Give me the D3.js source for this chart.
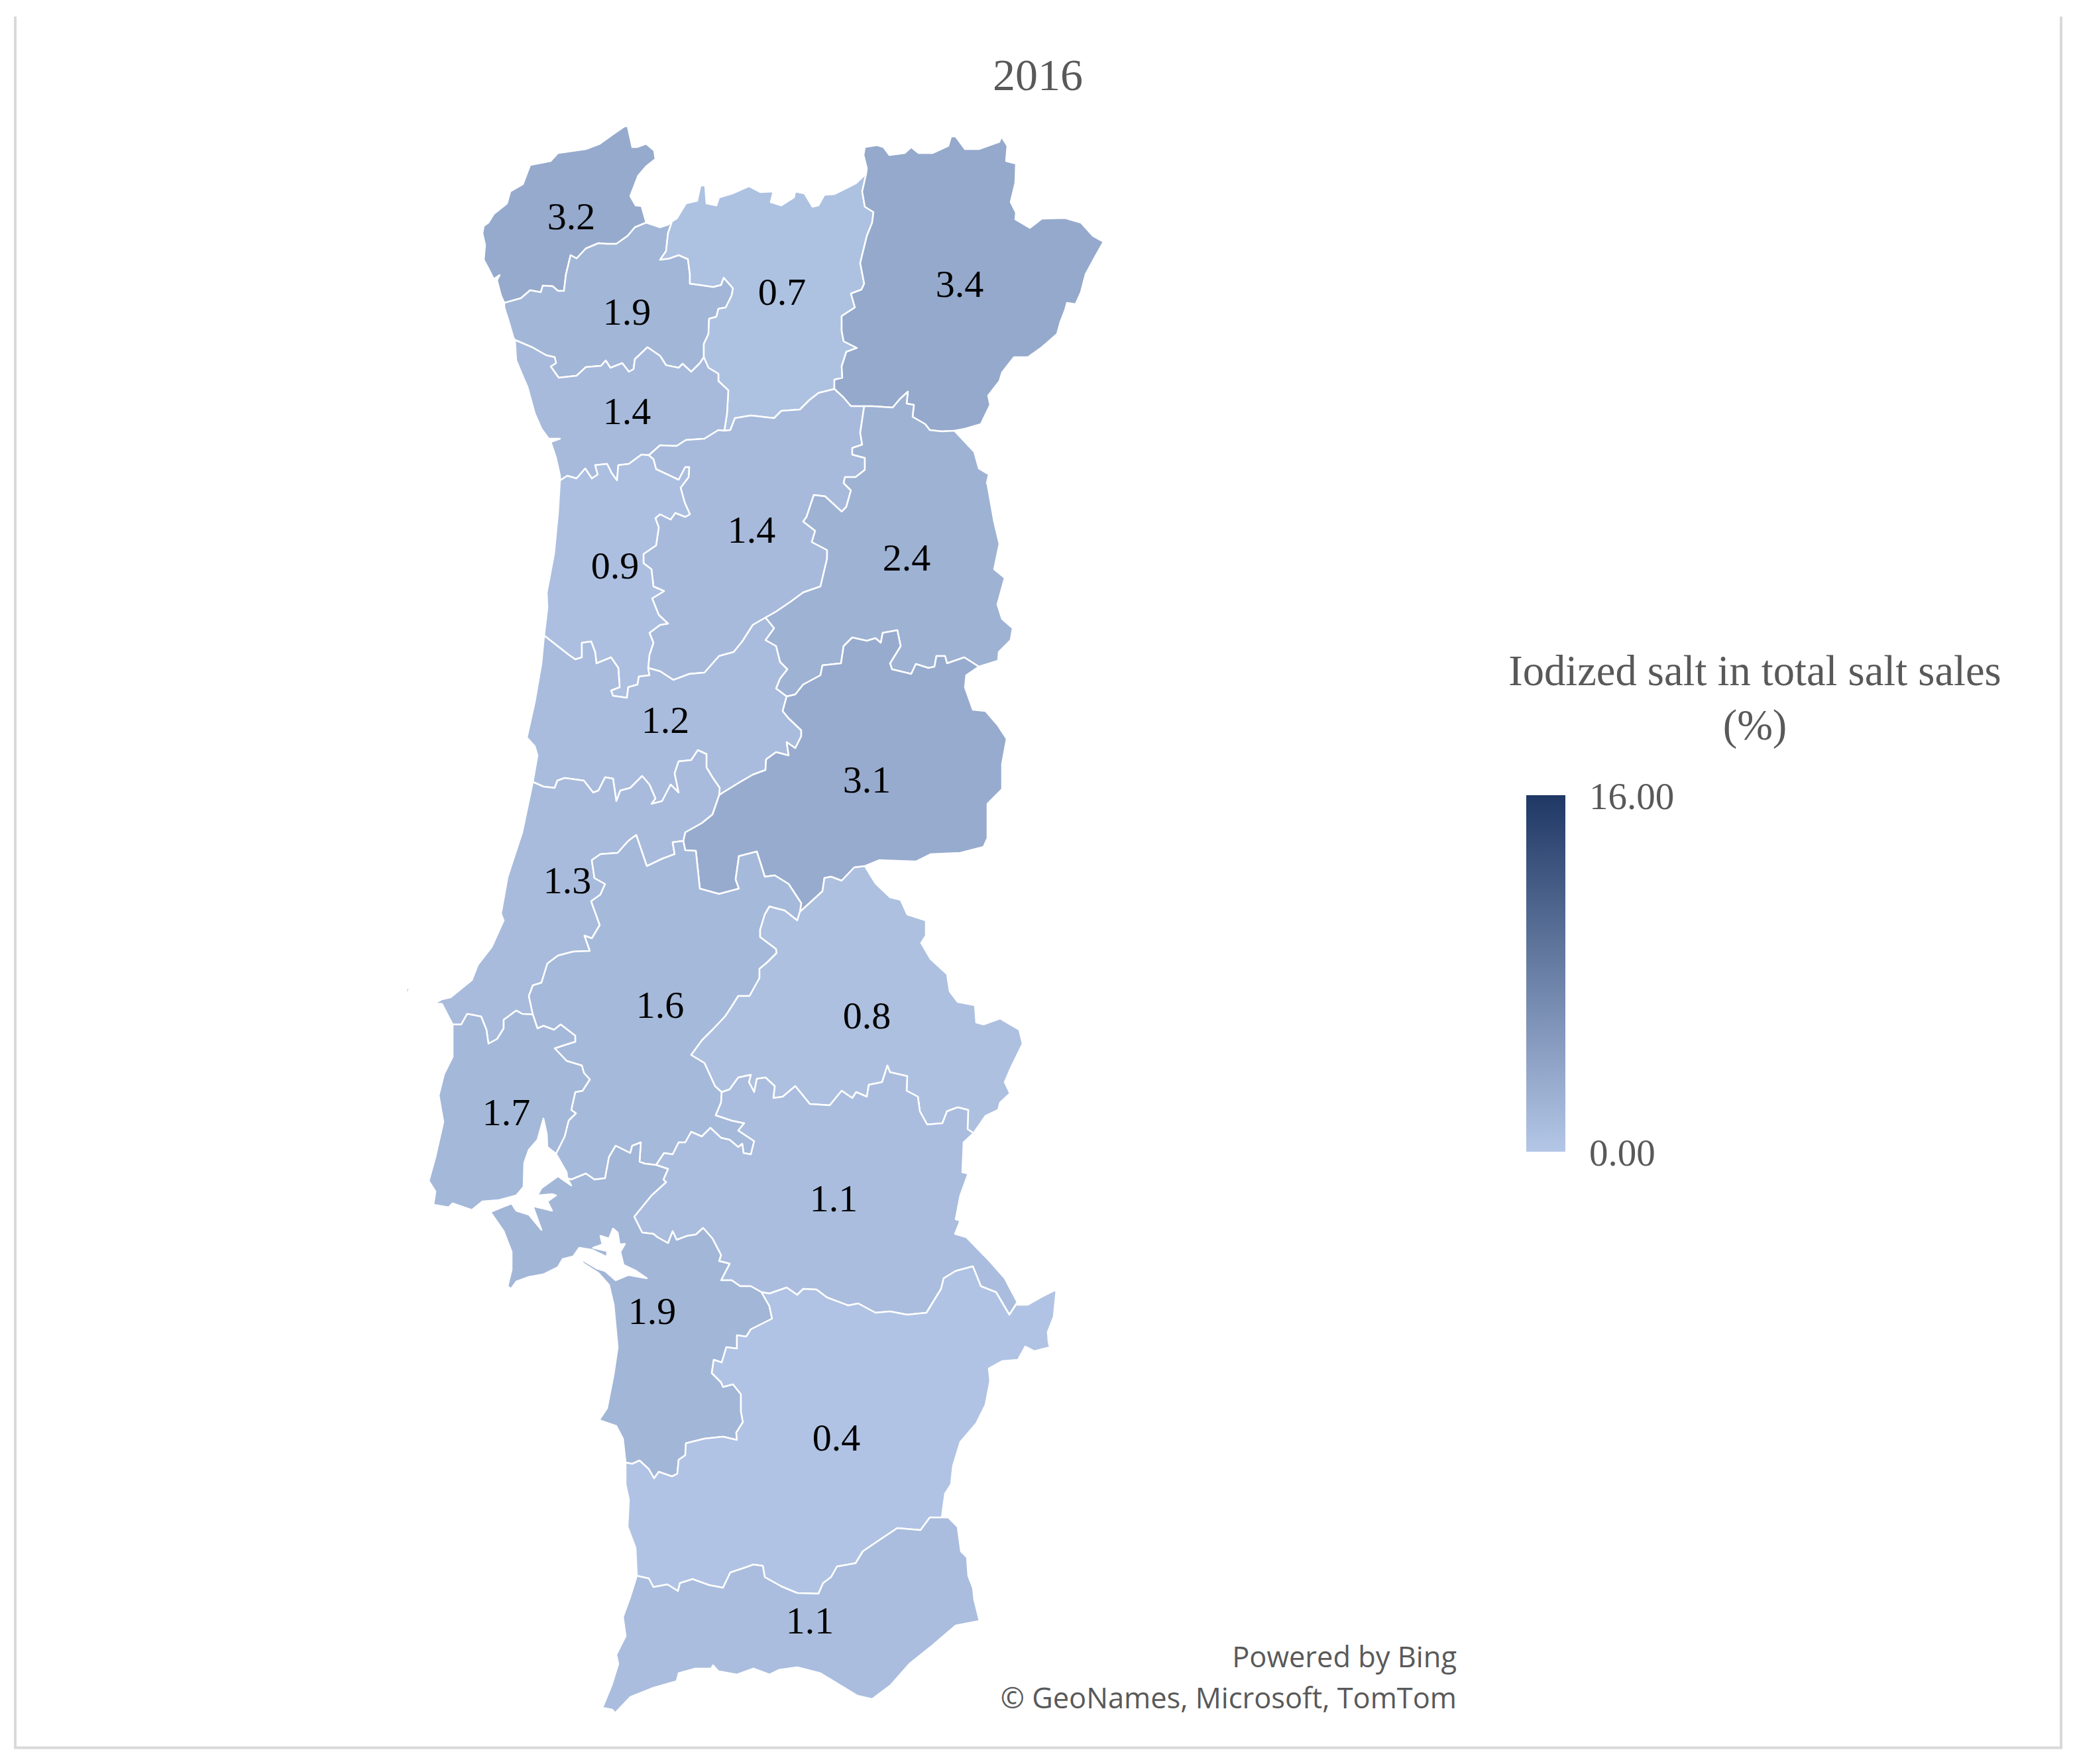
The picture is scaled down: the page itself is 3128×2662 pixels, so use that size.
<!DOCTYPE html>
<html>
<head>
<meta charset="utf-8">
<script src="https://cdnjs.cloudflare.com/ajax/libs/d3/7.8.5/d3.min.js"></script>
<style>
  html, body { margin: 0; padding: 0; background: #fff; }
  text { font-family: "Liberation Serif", serif; }
  text.credit { font-family: "Open Sans", sans-serif; }
</style>
</head>
<body>
<div id="my_dataviz"></div>
<script>
// district names and their values, same order
var districts = ["Viana do Castelo", "Braga", "Vila Real", "Bragança", "Porto", "Viseu", "Guarda", "Aveiro", "Coimbra",
    "Castelo Branco", "Leiria", "Santarém", "Portalegre", "Lisboa", "Évora", "Setúbal", "Beja", "Faro"];
var values = [3.2, 1.9, 0.7, 3.4, 1.4, 1.4, 2.4, 0.9, 1.2, 3.1, 1.3, 1.6, 0.8, 1.7, 1.1, 1.9, 0.4, 1.1];

// legend
var legendDomain = [0, 16];
var legendTicks = [0, 16];
var legendTitle = ["Iodized salt in total salt sales", "(%)"];
var chartTitle = "2016";
var credits = ["Powered by Bing", "© GeoNames, Microsoft, TomTom"];

// borders, map units. every border is shared by the two districts either side
var arcs = {
    vianaCoast: [[761,457],[756,446],[750,423],[754,415],[745,421],[737,405],[730,392],[732,370],[728,352],[730,341],[737,336],[745,323],[765,307],[770,289],[789,278],[800,249],[831,243],[842,231],[863,228],[884,225],[905,217],[926,202],[942,191],[947,190],[954,222],[961,222],[975,217],[987,227],[989,240],[975,251],[963,265],[958,278],[951,296],[959,310],[968,311],[975,336]],
    vianaBraga: [[975,336],[958,343],[947,356],[930,368],[916,368],[903,367],[884,375],[870,390],[861,385],[854,414],[851,439],[842,439],[834,432],[819,431],[816,441],[800,438],[786,450],[761,457]],
    bragaNorth: [[975,336],[996,343],[1008,339],[1014,334]],
    bragaCoast: [[761,457],[761,464],[768,486],[775,510],[777,513]],
    bragaPorto: [[777,513],[803,524],[824,536],[837,539],[839,548],[831,553],[843,570],[870,567],[884,554],[907,552],[914,544],[921,555],[939,548],[949,561],[956,557],[958,542],[977,524],[996,537],[1005,551],[1024,555],[1030,549],[1043,561],[1056,548],[1062,539]],
    bragaVilaReal: [[1014,334],[1008,352],[1005,379],[996,392],[1010,390],[1024,385],[1038,391],[1041,414],[1041,428],[1056,430],[1076,433],[1088,430],[1092,419],[1106,435],[1104,446],[1095,464],[1084,466],[1081,478],[1070,481],[1069,504],[1062,519],[1062,539]],
    vilaRealNorth: [[1014,334],[1021,330],[1035,307],[1052,303],[1057,280],[1064,280],[1066,307],[1081,310],[1085,298],[1105,292],[1130,281],[1147,290],[1167,289],[1163,305],[1179,310],[1198,298],[1200,289],[1214,292],[1226,312],[1235,310],[1244,294],[1259,293],[1291,277],[1307,262]],
    vilaRealBraganca: [[1307,262],[1301,289],[1305,312],[1318,320],[1316,336],[1308,356],[1298,397],[1304,428],[1300,437],[1284,443],[1290,464],[1270,477],[1270,499],[1273,515],[1293,525],[1277,531],[1270,553],[1271,570],[1259,573],[1259,587]],
    vilaRealPorto: [[1062,539],[1069,555],[1084,564],[1084,575],[1099,589],[1097,624],[1093,650]],
    vilaRealViseu: [[1093,650],[1102,649],[1109,631],[1133,627],[1168,631],[1179,620],[1207,618],[1221,604],[1235,593],[1259,587]],
    bragancaOuter: [[1307,262],[1308,254],[1303,234],[1305,222],[1323,219],[1333,222],[1342,234],[1365,231],[1375,222],[1386,231],[1407,231],[1431,220],[1435,206],[1442,206],[1456,225],[1477,225],[1508,214],[1511,206],[1520,220],[1518,243],[1533,247],[1532,276],[1525,305],[1533,321],[1532,331],[1554,344],[1572,330],[1607,329],[1631,336],[1649,356],[1665,365],[1652,388],[1638,414],[1631,441],[1623,459],[1610,457],[1607,468],[1600,486],[1595,504],[1572,524],[1551,539],[1530,539],[1512,562],[1508,575],[1491,597],[1494,611],[1480,640],[1456,647],[1440,650]],
    viseuBraganca: [[1259,587],[1273,600],[1284,613],[1304,613]],
    guardaBraganca: [[1304,613],[1316,613],[1347,615],[1358,602],[1370,591],[1368,609],[1379,611],[1377,629],[1396,640],[1403,649],[1421,651],[1440,650]],
    portoViseu: [[1093,650],[1084,649],[1063,662],[1035,664],[1021,673],[996,672],[979,687]],
    portoAveiro: [[979,687],[968,686],[949,700],[933,702],[931,725],[923,714],[916,700],[898,702],[902,716],[893,722],[883,707],[870,722],[856,718],[845,725]],
    portoCoast: [[777,513],[779,544],[789,568],[796,584],[807,624],[817,647],[828,662],[845,662],[831,667],[839,691],[845,718],[845,725]],
    aveiroViseu: [[979,687],[986,693],[990,708],[1024,724],[1034,705],[1040,705],[1039,720],[1027,736],[1033,758],[1041,776],[1034,780],[1019,774],[1012,784],[996,776],[989,782],[994,796],[990,823],[971,836],[971,850],[983,859],[986,885],[1002,892],[984,903],[994,928],[1008,941],[996,943],[980,955],[986,970],[980,988],[978,1008]],
    aveiroCoimbra: [[821,959],[858,988],[868,995],[878,992],[878,970],[892,968],[898,984],[900,1001],[922,992],[933,1008],[935,1037],[922,1042],[925,1050],[946,1053],[948,1037],[962,1033],[964,1021],[980,1019],[978,1008]],
    aveiroCoast: [[845,725],[842,774],[836,836],[825,894],[826,917],[821,959]],
    viseuCoimbra: [[978,1008],[996,1013],[1016,1026],[1040,1017],[1063,1015],[1085,990],[1107,984],[1120,968],[1136,943],[1155,932]],
    viseuGuarda: [[1304,613],[1298,653],[1301,671],[1286,676],[1286,686],[1305,691],[1305,709],[1291,720],[1275,720],[1273,729],[1284,740],[1277,765],[1270,772],[1245,749],[1228,747],[1217,780],[1212,787],[1230,801],[1225,818],[1248,830],[1248,843],[1238,885],[1212,894],[1193,908],[1171,923],[1155,932]],
    guardaOuter: [[1440,650],[1470,682],[1477,707],[1492,716],[1489,729],[1490,731],[1500,787],[1508,821],[1500,859],[1516,872],[1505,912],[1512,934],[1528,948],[1525,966],[1507,984],[1506,997],[1477,1006]],
    guardaCasteloBranco: [[1477,1006],[1455,992],[1429,1001],[1426,990],[1413,990],[1410,1006],[1401,1008],[1382,1002],[1375,1017],[1346,1010],[1343,1001],[1359,975],[1354,951],[1332,955],[1329,970],[1321,963],[1308,967],[1286,962],[1273,975],[1269,1001],[1241,1004],[1238,1019],[1212,1033],[1200,1048],[1187,1051]],
    guardaCoimbra: [[1155,932],[1168,948],[1155,966],[1171,975],[1177,999],[1188,1010],[1177,1024],[1171,1039],[1187,1051]],
    casteloBrancoOuter: [[1477,1006],[1458,1019],[1456,1037],[1468,1071],[1487,1073],[1506,1095],[1519,1115],[1512,1153],[1512,1191],[1490,1213],[1490,1265],[1484,1278],[1449,1287],[1404,1289],[1382,1300],[1327,1298],[1305,1307]],
    casteloBrancoCoimbra: [[1187,1051],[1181,1073],[1190,1084],[1209,1102],[1209,1111],[1200,1129],[1187,1120],[1190,1140],[1171,1135],[1156,1146],[1155,1162],[1136,1169],[1117,1180],[1091,1196],[1085,1200]],
    casteloBrancoLeiria: [[1085,1200],[1075,1229],[1059,1242],[1034,1256],[1031,1269]],
    casteloBrancoSantarem: [[1031,1269],[1034,1283],[1050,1284],[1056,1341],[1085,1349],[1115,1341],[1110,1327],[1115,1292],[1142,1285],[1154,1323],[1169,1321],[1190,1334],[1209,1363],[1207,1376]],
    casteloBrancoPortalegre: [[1207,1376],[1241,1345],[1244,1325],[1254,1323],[1270,1329],[1289,1309],[1305,1307]],
    coimbraLeiria: [[804,1180],[820,1187],[837,1189],[841,1178],[852,1174],[881,1178],[895,1196],[903,1193],[913,1173],[925,1175],[930,1209],[936,1193],[951,1189],[969,1171],[980,1184],[989,1205],[983,1213],[999,1209],[1012,1184],[1024,1196],[1018,1167],[1024,1149],[1043,1147],[1053,1132],[1066,1138],[1066,1158],[1075,1173],[1086,1189],[1085,1200]],
    coimbraCoast: [[821,959],[817,1001],[807,1059],[795,1113],[807,1126],[811,1140],[804,1180]],
    leiriaCoast: [[804,1180],[788,1256],[766,1323],[756,1379],[760,1389],[742,1429],[721,1456],[712,1479],[680,1505],[667,1508],[656,1514],[667,1515],[683,1546]],
    leiriaLisboa: [[683,1546],[696,1546],[705,1530],[726,1534],[734,1554],[737,1575],[750,1568],[760,1552],[760,1539],[779,1525],[788,1530],[804,1531]],
    leiriaSantarem: [[1031,1269],[1015,1271],[1018,1289],[999,1296],[976,1307],[960,1260],[948,1269],[932,1287],[906,1289],[893,1298],[897,1325],[913,1334],[906,1350],[892,1360],[905,1396],[893,1416],[882,1412],[890,1435],[865,1436],[842,1442],[826,1454],[817,1483],[804,1487],[798,1503],[804,1531]],
    santaremLisboa: [[804,1531],[811,1552],[820,1548],[836,1554],[846,1546],[868,1563],[868,1572],[852,1577],[837,1582],[855,1601],[878,1608],[881,1619],[890,1629],[879,1646],[868,1648],[862,1675],[869,1680],[858,1691],[852,1715],[839,1741]],
    lisboaCoast: [[683,1546],[683,1595],[670,1621],[662,1653],[669,1693],[657,1746],[647,1782],[657,1798],[654,1818],[677,1822],[683,1816],[712,1826]],
    lisboaEstuary: [[712,1826],[728,1813],[753,1811],[779,1804],[790,1791],[791,1755],[798,1735],[811,1720],[820,1688],[825,1711],[826,1731],[839,1741]],
    santaremEstuary: [[839,1741],[855,1769],[856,1778]],
    santaremSetubal: [[856,1778],[862,1780],[884,1771],[897,1780],[913,1778],[919,1746],[929,1729],[951,1740],[954,1729],[967,1724],[965,1753],[973,1756],[990,1758]],
    santaremEvora: [[990,1758],[1002,1740],[1015,1742],[1024,1724],[1034,1724],[1043,1708],[1059,1715],[1072,1702],[1088,1717],[1101,1720],[1114,1731],[1120,1726],[1122,1740],[1133,1742],[1138,1722],[1114,1706],[1123,1695],[1104,1691],[1080,1683],[1088,1664],[1089,1648]],
    santaremPortalegre: [[1207,1376],[1203,1389],[1184,1374],[1161,1368],[1154,1380],[1147,1403],[1147,1414],[1171,1432],[1172,1438],[1158,1452],[1146,1462],[1146,1476],[1131,1503],[1114,1503],[1104,1519],[1094,1534],[1075,1554],[1059,1570],[1043,1592],[1063,1604],[1069,1617],[1079,1639],[1089,1648]],
    portalegreEvora: [[1089,1648],[1101,1644],[1114,1626],[1133,1622],[1130,1633],[1138,1648],[1142,1628],[1155,1626],[1169,1639],[1167,1657],[1181,1655],[1200,1639],[1222,1666],[1252,1668],[1270,1646],[1286,1657],[1292,1648],[1308,1655],[1311,1637],[1331,1633],[1339,1608],[1343,1618],[1369,1624],[1368,1646],[1385,1655],[1388,1677],[1399,1697],[1422,1695],[1429,1677],[1445,1671],[1461,1675],[1460,1704],[1469,1710]],
    portalegreOuter: [[1305,1307],[1321,1333],[1343,1354],[1359,1358],[1369,1380],[1397,1389],[1397,1412],[1390,1423],[1404,1447],[1429,1470],[1433,1496],[1445,1512],[1471,1517],[1473,1543],[1484,1546],[1509,1537],[1538,1554],[1543,1575],[1525,1612],[1516,1633],[1524,1650],[1509,1664],[1506,1675],[1487,1684],[1469,1710]],
    evoraOuter: [[1469,1710],[1454,1724],[1452,1769],[1461,1771],[1449,1804],[1442,1840],[1449,1842],[1441,1862],[1458,1867],[1493,1903],[1516,1929],[1535,1965],[1523,1984]],
    evoraBeja: [[1523,1984],[1503,1950],[1480,1941],[1468,1911],[1442,1918],[1424,1929],[1420,1945],[1398,1981],[1369,1984],[1343,1979],[1321,1981],[1295,1967],[1280,1970],[1248,1958],[1232,1946],[1212,1945],[1203,1954],[1187,1943],[1161,1952],[1149,1950]],
    evoraSetubal: [[990,1758],[1008,1764],[1001,1780],[1005,1784],[983,1804],[957,1836],[969,1860],[986,1862],[992,1867],[1008,1876],[1015,1858],[1021,1871],[1037,1865],[1050,1863],[1061,1853],[1075,1869],[1088,1894],[1085,1903],[1101,1907],[1088,1932],[1104,1932],[1117,1941],[1133,1941],[1149,1950]],
    setubalBeja: [[1149,1950],[1161,1971],[1165,1990],[1133,2006],[1126,2017],[1112,2015],[1112,2035],[1096,2033],[1089,2056],[1077,2052],[1074,2072],[1088,2086],[1091,2093],[1106,2089],[1118,2104],[1118,2130],[1121,2146],[1111,2162],[1112,2173],[1091,2168],[1063,2171],[1035,2178],[1034,2196],[1024,2203],[1022,2224],[1014,2228],[994,2221],[987,2231],[979,2217],[965,2204],[954,2209],[944,2207]],
    setubalOuter: [[856,1778],[862,1789],[842,1775],[817,1793],[811,1804],[833,1802],[839,1804],[826,1813],[833,1827],[804,1820],[817,1856],[798,1833],[779,1827],[772,1816],[740,1829],[760,1858],[772,1889],[772,1916],[766,1941],[771,1945],[779,1934],[798,1927],[820,1923],[842,1912],[849,1900],[865,1896],[874,1883],[893,1886],[916,1897],[916,1888],[895,1883],[909,1878],[906,1865],[919,1869],[925,1854],[932,1860],[935,1878],[943,1877],[936,1889],[941,1909],[960,1918],[976,1929],[948,1924],[929,1932],[913,1918],[900,1914],[873,1898],[881,1907],[903,1921],[919,1939],[926,1969],[932,2033],[926,2074],[916,2125],[904,2143],[930,2152],[940,2171],[944,2207]],
    bejaOuter: [[1523,1984],[1533,1969],[1551,1969],[1572,1957],[1594,1946],[1590,1987],[1581,2010],[1582,2024],[1584,2033],[1561,2039],[1547,2032],[1536,2052],[1512,2054],[1492,2065],[1494,2084],[1487,2120],[1473,2148],[1449,2176],[1438,2212],[1435,2240],[1426,2254],[1421,2290]],
    bejaFaro: [[1421,2290],[1403,2290],[1389,2309],[1354,2306],[1330,2322],[1302,2341],[1291,2359],[1263,2364],[1254,2380],[1242,2389],[1235,2405],[1203,2404],[1179,2394],[1154,2380],[1151,2363],[1137,2361],[1123,2366],[1102,2373],[1091,2396],[1070,2392],[1045,2383],[1026,2389],[1023,2401],[1007,2391],[986,2395],[979,2382],[961,2378]],
    bejaCoast: [[944,2207],[944,2240],[949,2263],[947,2304],[959,2336],[961,2378]],
    faroCoast: [[961,2378],[951,2410],[940,2440],[944,2469],[930,2497],[933,2511],[923,2543],[909,2577],[924,2580],[928,2585],[951,2561],[986,2547],[1021,2537],[1024,2525],[1049,2518],[1073,2518],[1076,2513],[1084,2522],[1112,2527],[1137,2518],[1161,2527],[1175,2520],[1203,2516],[1238,2525],[1294,2559],[1316,2564],[1344,2543],[1372,2511],[1407,2483],[1442,2453],[1478,2446],[1470,2414],[1468,2396],[1461,2378],[1459,2350],[1450,2341],[1445,2304],[1431,2290],[1421,2290]]
};

// which borders close each district, same order as districts. "-" walks the border backwards
var rings = [
    ["vianaCoast", "vianaBraga"],
    ["bragaCoast", "bragaPorto", "-bragaVilaReal", "-bragaNorth", "vianaBraga"],
    ["vilaRealNorth", "vilaRealBraganca", "-vilaRealViseu", "-vilaRealPorto", "-bragaVilaReal"],
    ["bragancaOuter", "-guardaBraganca", "-viseuBraganca", "-vilaRealBraganca"],
    ["bragaPorto", "vilaRealPorto", "portoViseu", "portoAveiro", "-portoCoast"],
    ["vilaRealViseu", "viseuBraganca", "viseuGuarda", "-viseuCoimbra", "-aveiroViseu", "-portoViseu"],
    ["guardaOuter", "guardaCasteloBranco", "-guardaCoimbra", "-viseuGuarda", "guardaBraganca"],
    ["aveiroCoast", "aveiroCoimbra", "-aveiroViseu", "portoAveiro"],
    ["coimbraCoast", "coimbraLeiria", "-casteloBrancoCoimbra", "-guardaCoimbra", "-viseuCoimbra", "-aveiroCoimbra"],
    ["casteloBrancoOuter", "-casteloBrancoPortalegre", "-casteloBrancoSantarem", "-casteloBrancoLeiria", "-casteloBrancoCoimbra", "-guardaCasteloBranco"],
    ["leiriaCoast", "leiriaLisboa", "-leiriaSantarem", "-casteloBrancoLeiria", "-coimbraLeiria"],
    ["leiriaSantarem", "santaremLisboa", "santaremEstuary", "santaremSetubal", "santaremEvora", "-santaremPortalegre", "-casteloBrancoSantarem"],
    ["portalegreOuter", "-portalegreEvora", "-santaremPortalegre", "casteloBrancoPortalegre"],
    ["lisboaCoast", "lisboaEstuary", "-santaremLisboa", "-leiriaLisboa"],
    ["portalegreEvora", "evoraOuter", "evoraBeja", "-evoraSetubal", "santaremEvora"],
    ["santaremSetubal", "evoraSetubal", "setubalBeja", "-setubalOuter"],
    ["evoraBeja", "setubalBeja", "bejaCoast", "-bejaFaro", "-bejaOuter"],
    ["faroCoast", "bejaFaro"]
];

// Berlengas, drawn with Leiria
var islet = [[612,1497],[615,1490],[618,1491],[616,1497],[612,1497]];

// where each number sits, map units
var labelPoints = [[862,326],[946,470],[1180,440],[1448,428],[946,620],[1134,799],[1368,841],[928,853],[1004,1086],
    [1308,1176],[856,1328],[996,1516],[1308,1532],[764,1678],[1258,1808],[984,1978],[1262,2169],[1222,2445]];

var width = 3128, height = 2662;

var svg = d3.select("#my_dataviz")
    .append("svg")
    .attr("width", width)
    .attr("height", height)
    .style("display", "block");

// grey frame, it has no top side
svg.append("path")
    .attr("d", "M23,25V2637.5H3110V25")
    .attr("fill", "none")
    .attr("stroke", "#d9d9d9")
    .attr("stroke-width", 4);

var color = d3.scaleLinear()
    .domain(legendDomain)
    .range(["#b4c7e7", "#1f3864"]);

function walk(names) {
    var pts = [];
    names.forEach(function (n) {
        var a = n[0] == "-" ? arcs[n.slice(1)].slice().reverse() : arcs[n];
        pts = pts.concat(a);
    });
    pts.push(pts[0]);
    return pts;
}

var features = districts.map(function (name, i) {
    var polys = [[walk(rings[i])]];
    if (name == "Leiria") polys.push([islet]);
    return {
        type: "Feature",
        properties: { name: name, value: values[i] },
        geometry: { type: "MultiPolygon", coordinates: polys }
    };
});

// map units are picture pixels, so no fitting
var projection = d3.geoIdentity();
var path = d3.geoPath(projection);

svg.append("g").selectAll("path")
    .data(features)
    .enter()
    .append("path")
    .attr("d", path)
    .attr("fill", function (d) { return color(d.properties.value); })
    .attr("stroke", "#fff")
    .attr("stroke-width", 2.5)
    .attr("stroke-linejoin", "round");

svg.append("g").selectAll("text")
    .data(features)
    .enter()
    .append("text")
    .attr("x", function (d, i) { return projection(labelPoints[i])[0]; })
    .attr("y", function (d, i) { return projection(labelPoints[i])[1]; })
    .attr("dy", "0.34em")
    .attr("text-anchor", "middle")
    .attr("font-size", 58)
    .attr("fill", "#000")
    .text(function (d) { return d.properties.value.toFixed(1); });

// title
svg.append("text")
    .attr("x", 1566).attr("y", 136)
    .attr("text-anchor", "middle")
    .attr("font-size", 68)
    .attr("fill", "#595959")
    .text(chartTitle);

// legend
svg.append("g").selectAll("text")
    .data(legendTitle)
    .enter()
    .append("text")
    .attr("x", 2648)
    .attr("y", function (d, i) { return 1034 + i * 82; })
    .attr("text-anchor", "middle")
    .attr("font-size", 64.5)
    .attr("fill", "#595959")
    .text(function (d) { return d; });

var legendY = d3.scaleLinear().domain(legendDomain).range([1738, 1200]);

var grad = svg.append("defs").append("linearGradient")
    .attr("id", "legendGrad")
    .attr("x1", 0).attr("y1", 1).attr("x2", 0).attr("y2", 0);
grad.selectAll("stop")
    .data(legendDomain)
    .enter()
    .append("stop")
    .attr("offset", function (d) { return (d - legendDomain[0]) / (legendDomain[1] - legendDomain[0]); })
    .attr("stop-color", function (d) { return color(d); });

svg.append("rect")
    .attr("x", 2303).attr("y", legendY(legendDomain[1]))
    .attr("width", 59)
    .attr("height", legendY(legendDomain[0]) - legendY(legendDomain[1]))
    .attr("fill", "url(#legendGrad)");

var legendAxis = svg.append("g")
    .attr("transform", "translate(2362,2)")
    .call(d3.axisRight(legendY).tickValues(legendTicks).tickFormat(d3.format(".2f")).tickSize(0).tickPadding(36));
legendAxis.select(".domain").remove();
legendAxis.selectAll("text")
    .attr("font-size", 57)
    .attr("fill", "#595959");

// credits
svg.append("g").selectAll("text")
    .data(credits)
    .enter()
    .append("text")
    .attr("class", "credit")
    .attr("x", 2198)
    .attr("y", function (d, i) { return 2516 + i * 62; })
    .attr("text-anchor", "end")
    .attr("font-size", 43.4)
    .attr("fill", "#595959")
    .text(function (d) { return d; });
</script>
</body>
</html>
